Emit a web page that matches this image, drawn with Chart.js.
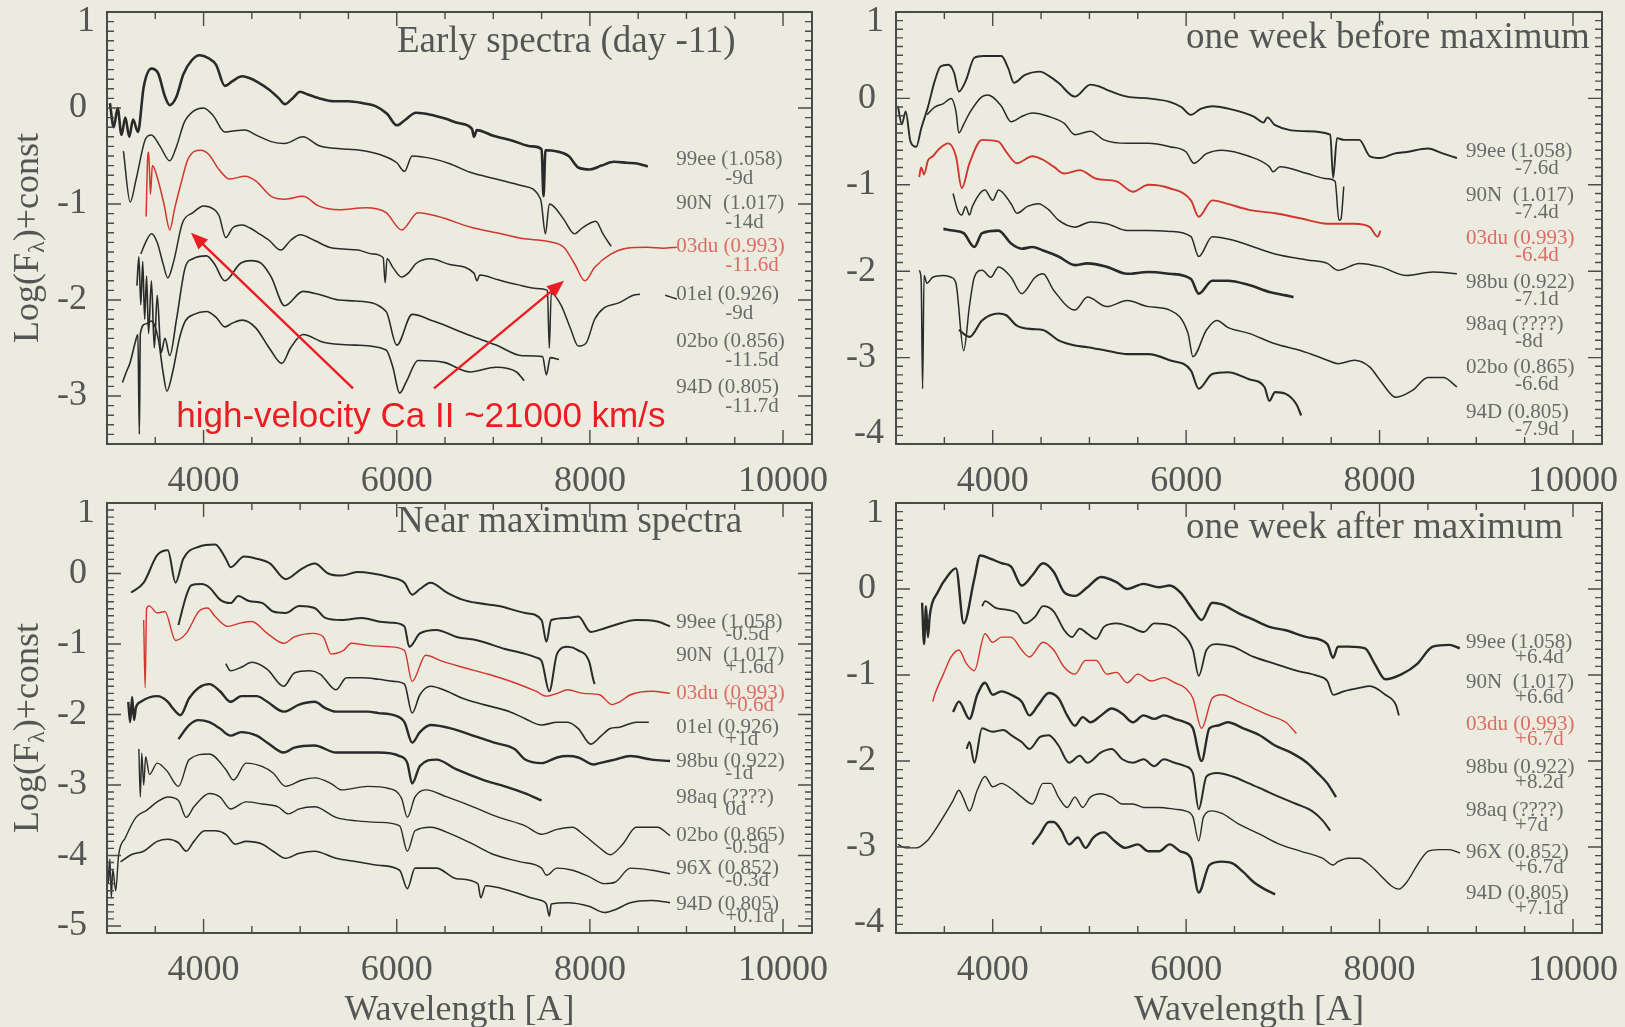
<!DOCTYPE html>
<html>
<head>
<meta charset="utf-8">
<title>SN Ia spectral sequence</title>
<script src="https://cdn.jsdelivr.net/npm/chart.js@4.4.1/dist/chart.umd.min.js"></script>
<style>
  html, body { margin: 0; padding: 0; background: #ecebdf; }
  body { width: 1625px; height: 1027px; position: relative; overflow: hidden; }
  canvas { position: absolute; }
</style>
</head>
<body>
<canvas id="c-early"></canvas>
<canvas id="c-pre"></canvas>
<canvas id="c-max"></canvas>
<canvas id="c-post"></canvas>
<script>
/* ---- wavelength axis (Angstrom) ---- */
const X_MIN = 3000, X_MAX = 10300;
const xTicks = [4000, 6000, 8000, 10000];
const LABEL_X = 8895;   // where the object labels start

/* ---- early spectra (day -11) : [wavelength, log flux + const] ---- */
const early99ee = [[3030,0.05],[3070,-0.20],[3110,0.00],[3150,-0.28],[3190,-0.10],[3230,-0.30],[3270,-0.12],[3320,-0.25],[3380,0.22],[3460,0.41],[3530,0.36],[3600,0.12],[3650,0.03],[3720,0.12],[3790,0.35],[3880,0.50],[3960,0.55],[4050,0.52],[4130,0.45],[4220,0.23],[4300,0.28],[4400,0.33],[4480,0.31],[4560,0.27],[4680,0.19],[4780,0.10],[4840,0.04],[4920,0.10],[5000,0.17],[5080,0.14],[5200,0.10],[5350,0.07],[5500,0.07],[5650,0.05],[5780,0.02],[5900,-0.06],[6000,-0.18],[6080,-0.13],[6200,-0.05],[6350,-0.07],[6500,-0.11],[6650,-0.16],[6780,-0.22],[6800,-0.30],[6830,-0.23],[7000,-0.29],[7200,-0.34],[7400,-0.40],[7500,-0.43],[7520,-0.92],[7540,-0.44],[7650,-0.45],[7780,-0.50],[7880,-0.62],[8000,-0.64],[8120,-0.60],[8250,-0.56],[8380,-0.57],[8500,-0.58],[8600,-0.61]];
const early90N = [[3170,-0.45],[3240,-0.98],[3300,-0.75],[3400,-0.32],[3460,-0.28],[3550,-0.40],[3650,-0.55],[3720,-0.40],[3800,-0.15],[3900,-0.03],[4000,0.00],[4100,-0.08],[4220,-0.25],[4300,-0.24],[4430,-0.23],[4540,-0.28],[4700,-0.35],[4840,-0.37],[5030,-0.30],[5190,-0.39],[5350,-0.42],[5500,-0.43],[5620,-0.44],[5840,-0.49],[6000,-0.57],[6080,-0.66],[6160,-0.50],[6380,-0.53],[6550,-0.58],[6760,-0.67],[7030,-0.74],[7300,-0.81],[7490,-0.95],[7540,-1.31],[7580,-1.00],[7620,-1.02],[7730,-1.16],[7840,-1.31],[7920,-1.25],[8000,-1.20],[8060,-1.18],[8140,-1.32],[8220,-1.44]];
const early03du = [[3405,-1.13],[3420,-0.55],[3432,-0.46],[3450,-0.90],[3470,-0.60],[3514,-0.70],[3590,-1.00],[3650,-1.27],[3700,-1.05],[3760,-0.81],[3840,-0.53],[3970,-0.44],[4050,-0.48],[4160,-0.64],[4270,-0.74],[4430,-0.71],[4540,-0.76],[4700,-0.92],[4840,-0.95],[5030,-0.92],[5190,-1.02],[5400,-1.06],[5680,-1.04],[5890,-1.09],[6050,-1.27],[6220,-1.09],[6430,-1.13],[6760,-1.24],[7080,-1.31],[7300,-1.36],[7570,-1.39],[7730,-1.45],[7840,-1.62],[7950,-1.80],[8050,-1.66],[8220,-1.52],[8380,-1.46],[8590,-1.45],[8760,-1.46],[8900,-1.45]];
const early01el = [[3350,-1.52],[3400,-1.40],[3460,-1.31],[3520,-1.40],[3580,-1.62],[3630,-1.77],[3690,-1.60],[3780,-1.20],[3890,-1.09],[4000,-1.02],[4100,-1.05],[4160,-1.12],[4230,-1.35],[4300,-1.25],[4400,-1.22],[4480,-1.25],[4560,-1.30],[4680,-1.38],[4800,-1.48],[4900,-1.38],[5000,-1.32],[5150,-1.38],[5300,-1.45],[5450,-1.47],[5600,-1.48],[5750,-1.52],[5860,-1.56],[5880,-1.82],[5900,-1.57],[5960,-1.66],[6050,-1.76],[6120,-1.72],[6200,-1.62],[6350,-1.57],[6550,-1.63],[6800,-1.72],[6830,-1.80],[6860,-1.74],[7050,-1.79],[7250,-1.84],[7450,-1.88],[7560,-1.90],[7580,-2.50],[7600,-1.93],[7700,-2.05],[7800,-2.30],[7880,-2.48],[7960,-2.45],[8050,-2.20],[8150,-2.08],[8300,-2.03],[8450,-1.95],[8520,-1.94],[8650,null],[8780,-1.95],[8900,-1.99]];
const early02bo = [[3310,-1.85],[3330,-1.55],[3350,-2.05],[3370,-1.60],[3390,-2.20],[3410,-1.75],[3430,-2.35],[3460,-1.80],[3490,-2.50],[3520,-1.95],[3560,-2.55],[3600,-2.40],[3650,-2.58],[3720,-2.20],[3810,-1.66],[3890,-1.57],[4030,-1.54],[4110,-1.62],[4220,-1.80],[4380,-1.62],[4490,-1.59],[4600,-1.62],[4700,-1.76],[4840,-2.06],[5030,-1.91],[5190,-1.94],[5400,-2.00],[5570,-2.01],[5890,-2.12],[6000,-2.47],[6160,-2.15],[6380,-2.22],[6760,-2.37],[7030,-2.47],[7300,-2.58],[7510,-2.59],[7550,-2.78],[7590,-2.60],[7680,-2.62]];
const early94D = [[3160,-2.86],[3200,-2.75],[3240,-2.65],[3290,-2.45],[3320,-2.36],[3335,-3.40],[3345,-2.35],[3400,-2.25],[3460,-2.22],[3530,-2.40],[3580,-2.75],[3620,-2.95],[3680,-2.75],[3750,-2.40],[3810,-2.22],[3900,-2.15],[4030,-2.12],[4130,-2.18],[4220,-2.28],[4300,-2.24],[4400,-2.21],[4540,-2.29],[4680,-2.50],[4810,-2.66],[4900,-2.50],[5030,-2.36],[5240,-2.44],[5570,-2.47],[5890,-2.52],[5960,-2.70],[6030,-2.97],[6100,-2.85],[6220,-2.63],[6490,-2.65],[6760,-2.75],[7030,-2.70],[7240,-2.75],[7320,-2.84]];
const earlyNames = ['99ee (1.058)', '90N  (1.017)', '03du (0.993)', '01el (0.926)', '02bo (0.856)', '94D (0.805)'];
const earlyPhases = ['-9d', '-14d', '-11.6d', '-9d', '-11.5d', '-11.7d'];
const earlyLabelY = [-0.54, -0.99, -1.44, -1.94, -2.43, -2.91];

/* ---- one week before maximum ---- */
const pre99ee = [[3020,-0.09],[3060,-0.30],[3100,-0.15],[3150,-0.50],[3210,-0.56],[3260,-0.35],[3330,-0.10],[3400,0.20],[3460,0.37],[3540,0.39],[3600,0.30],[3650,0.08],[3720,0.20],[3810,0.47],[3900,0.49],[3980,0.49],[4090,0.49],[4160,0.35],[4220,0.18],[4330,0.27],[4490,0.31],[4580,0.26],[4680,0.18],[4850,0.02],[5010,0.16],[5100,0.14],[5180,0.10],[5390,0.02],[5610,0.00],[5830,-0.04],[5950,-0.10],[6050,-0.19],[6150,-0.12],[6270,-0.09],[6480,-0.13],[6700,-0.21],[6800,-0.28],[6840,-0.22],[6920,-0.31],[7250,-0.38],[7490,-0.42],[7520,-0.92],[7560,-0.46],[7630,-0.48],[7790,-0.48],[7900,-0.67],[8010,-0.69],[8150,-0.64],[8280,-0.62],[8500,-0.58],[8660,-0.64],[8800,-0.69]];
const pre90N = [[3320,-0.19],[3400,-0.10],[3490,-0.06],[3570,0.00],[3620,-0.15],[3650,-0.40],[3700,-0.30],[3760,-0.17],[3890,0.02],[3950,0.04],[4090,-0.09],[4190,-0.27],[4300,-0.21],[4410,-0.17],[4580,-0.21],[4740,-0.29],[4850,-0.42],[5010,-0.38],[5150,-0.48],[5390,-0.52],[5610,-0.52],[5830,-0.56],[6000,-0.62],[6080,-0.75],[6210,-0.64],[6370,-0.60],[6650,-0.67],[6860,-0.79],[6900,-0.85],[6970,-0.79],[7250,-0.87],[7460,-0.93],[7540,-0.96],[7580,-1.41],[7600,-1.40],[7630,-1.02]];
const pre03du = [[3240,-0.91],[3260,-0.80],[3290,-0.88],[3330,-0.72],[3380,-0.67],[3450,-0.58],[3540,-0.52],[3620,-0.67],[3680,-1.04],[3760,-0.75],[3890,-0.48],[4060,-0.50],[4140,-0.62],[4250,-0.75],[4410,-0.67],[4520,-0.71],[4630,-0.79],[4740,-0.87],[4900,-0.83],[5070,-0.93],[5280,-0.96],[5450,-1.08],[5610,-1.00],[5830,-1.04],[6050,-1.18],[6130,-1.37],[6270,-1.18],[6430,-1.22],[6650,-1.29],[6920,-1.33],[7190,-1.39],[7460,-1.45],[7740,-1.45],[7900,-1.49],[7980,-1.60],[8010,-1.53]];
const pre98bu = [[3590,-1.10],[3640,-1.30],[3680,-1.35],[3720,-1.25],[3760,-1.35],[3790,-1.25],[3920,-1.06],[4000,-1.18],[4060,-1.06],[4190,-1.22],[4250,-1.33],[4360,-1.25],[4470,-1.22],[4580,-1.29],[4680,-1.41],[4850,-1.49],[5010,-1.43],[5180,-1.45],[5390,-1.53],[5610,-1.53],[5830,-1.54],[6050,-1.60],[6130,-1.83],[6270,-1.60],[6480,-1.64],[6700,-1.72],[6920,-1.80],[7250,-1.87],[7460,-1.91],[7570,-1.99],[7790,-1.91],[8010,-1.95],[8280,-2.05],[8550,-2.01],[8800,-2.03]];
const pre98aq = [[3490,-1.51],[3590,-1.53],[3700,-1.56],[3810,-1.72],[3890,-1.56],[4060,-1.53],[4190,-1.68],[4300,-1.74],[4410,-1.72],[4520,-1.76],[4680,-1.83],[4850,-1.93],[4980,-1.91],[5180,-1.95],[5390,-2.03],[5610,-2.01],[5830,-2.03],[6050,-2.09],[6130,-2.26],[6270,-2.11],[6430,-2.11],[6650,-2.16],[6860,-2.24],[7030,-2.28],[7110,-2.30]];
const pre02bo = [[3240,-1.99],[3260,-2.10],[3275,-3.36],[3290,-2.05],[3320,-2.14],[3380,-2.07],[3490,-2.05],[3570,-2.07],[3620,-2.14],[3700,-2.92],[3760,-2.40],[3810,-2.07],[3890,-1.99],[3980,-2.07],[4060,-1.95],[4190,-2.07],[4300,-2.26],[4440,-2.07],[4520,-2.03],[4630,-2.22],[4850,-2.45],[4980,-2.30],[5180,-2.41],[5390,-2.34],[5610,-2.41],[5830,-2.45],[6020,-2.72],[6070,-2.99],[6210,-2.68],[6320,-2.57],[6430,-2.65],[6650,-2.72],[6920,-2.84],[7190,-2.92],[7460,-3.03],[7570,-3.07],[7740,-3.03],[7900,-3.11],[8010,-3.27],[8170,-3.46],[8340,-3.38],[8500,-3.23],[8660,-3.23],[8800,-3.34]];
const pre94D = [[3650,-2.68],[3760,-2.76],[3890,-2.57],[4060,-2.49],[4140,-2.51],[4250,-2.63],[4410,-2.67],[4520,-2.68],[4680,-2.80],[4850,-2.86],[4980,-2.88],[5180,-2.92],[5390,-2.96],[5610,-2.96],[5830,-3.03],[6050,-3.15],[6130,-3.36],[6270,-3.19],[6430,-3.17],[6650,-3.25],[6810,-3.34],[6860,-3.50],[6920,-3.40],[7030,-3.42],[7140,-3.54],[7190,-3.67]];
const preNames = ['99ee (1.058)', '90N  (1.017)', '03du (0.993)', '98bu (0.922)', '98aq (????)', '02bo (0.865)', '94D (0.805)'];
const prePhases = ['-7.6d', '-7.4d', '-6.4d', '-7.1d', '-8d', '-6.6d', '-7.9d'];
const preLabelY = [-0.62, -1.12, -1.62, -2.13, -2.62, -3.12, -3.63];

/* ---- near maximum ---- */
const max99ee = [[3250,-0.27],[3380,-0.13],[3520,0.26],[3630,0.33],[3710,-0.13],[3790,0.21],[3950,0.38],[4120,0.41],[4230,0.21],[4280,0.09],[4420,0.24],[4550,0.21],[4690,0.14],[4850,-0.08],[5020,0.07],[5150,0.14],[5290,0.00],[5430,-0.03],[5590,0.02],[5750,0.00],[5920,-0.05],[6080,-0.13],[6160,-0.30],[6240,-0.22],[6350,-0.13],[6520,-0.27],[6680,-0.37],[6840,-0.42],[7060,-0.46],[7330,-0.56],[7500,-0.66],[7550,-0.97],[7600,-0.66],[7770,-0.63],[7880,-0.61],[8010,-0.83],[8100,-0.80],[8260,-0.73],[8480,-0.66],[8700,-0.68],[8830,-0.75]];
const max90N = [[3740,-0.73],[3820,-0.32],[3870,-0.17],[3980,-0.15],[4060,-0.20],[4170,-0.37],[4280,-0.42],[4360,-0.32],[4470,-0.39],[4610,-0.42],[4720,-0.54],[4850,-0.56],[4990,-0.46],[5150,-0.49],[5260,-0.63],[5430,-0.66],[5640,-0.63],[5810,-0.68],[5970,-0.70],[6080,-0.75],[6130,-1.04],[6240,-0.85],[6410,-0.80],[6620,-0.90],[6840,-0.95],[7120,-1.07],[7330,-1.14],[7440,-1.19],[7500,-1.24],[7580,-1.67],[7660,-1.14],[7770,-1.04],[7880,-1.09],[7990,-1.24],[8040,-1.53],[8050,-1.57]];
const max03du = [[3380,-0.66],[3395,-1.62],[3410,-0.50],[3436,-0.46],[3520,-0.56],[3600,-0.54],[3710,-0.95],[3820,-0.85],[3950,-0.54],[4040,-0.49],[4120,-0.61],[4250,-0.75],[4390,-0.70],[4500,-0.68],[4660,-0.85],[4830,-0.99],[4940,-0.90],[5130,-0.85],[5240,-0.90],[5320,-1.14],[5450,-1.09],[5530,-0.99],[5700,-1.02],[5920,-1.04],[6080,-1.09],[6160,-1.53],[6300,-1.16],[6460,-1.24],[6680,-1.33],[6950,-1.43],[7220,-1.55],[7440,-1.67],[7550,-1.74],[7660,-1.70],[7770,-1.65],[7930,-1.70],[8100,-1.72],[8230,-1.86],[8310,-1.82],[8420,-1.72],[8640,-1.67],[8830,-1.70]];
const max01el = [[4230,-1.28],[4280,-1.38],[4390,-1.33],[4500,-1.26],[4660,-1.36],[4830,-1.60],[4940,-1.41],[5100,-1.38],[5210,-1.43],[5370,-1.65],[5480,-1.48],[5640,-1.48],[5810,-1.50],[5970,-1.53],[6080,-1.57],[6160,-1.98],[6240,-1.72],[6350,-1.60],[6520,-1.67],[6680,-1.77],[6900,-1.86],[7170,-1.96],[7330,-2.06],[7500,-2.15],[7660,-2.11],[7770,-2.11],[7880,-2.20],[8010,-2.42],[8120,-2.30],[8210,-2.20],[8310,-2.18],[8480,-2.11],[8610,-2.11]];
const max98bu = [[3220,-1.82],[3240,-2.11],[3260,-1.75],[3280,-2.08],[3300,-1.90],[3350,-1.82],[3520,-1.74],[3630,-1.82],[3680,-1.91],[3760,-2.01],[3850,-1.77],[3950,-1.62],[4060,-1.57],[4170,-1.67],[4280,-1.82],[4390,-1.74],[4550,-1.74],[4660,-1.82],[4830,-1.96],[4990,-1.86],[5150,-1.82],[5260,-1.91],[5370,-1.96],[5530,-1.96],[5700,-1.96],[5810,-1.98],[5970,-2.01],[6080,-2.11],[6160,-2.40],[6240,-2.25],[6350,-2.15],[6570,-2.20],[6790,-2.30],[7010,-2.40],[7220,-2.49],[7330,-2.64],[7500,-2.69],[7660,-2.61],[7770,-2.59],[7880,-2.61],[8040,-2.71],[8100,-2.69],[8260,-2.64],[8420,-2.59],[8640,-2.64],[8830,-2.66]];
const max98aq = [[3740,-2.35],[3850,-2.15],[3950,-2.08],[4060,-2.11],[4170,-2.20],[4280,-2.30],[4390,-2.25],[4550,-2.30],[4660,-2.40],[4830,-2.54],[4940,-2.47],[5150,-2.44],[5370,-2.54],[5590,-2.54],[5810,-2.54],[6030,-2.59],[6110,-2.69],[6160,-2.98],[6240,-2.73],[6410,-2.64],[6620,-2.78],[6900,-2.93],[7120,-3.02],[7330,-3.12],[7500,-3.22]];
const max02bo = [[3330,-2.49],[3345,-3.17],[3360,-2.55],[3380,-3.00],[3400,-2.60],[3440,-2.85],[3520,-2.69],[3620,-2.80],[3740,-3.02],[3850,-2.64],[4060,-2.56],[4230,-2.78],[4310,-2.93],[4440,-2.69],[4610,-2.74],[4720,-2.83],[4850,-3.02],[5020,-2.93],[5150,-2.90],[5320,-2.98],[5430,-3.07],[5700,-3.02],[5920,-3.05],[6050,-3.19],[6110,-3.46],[6190,-3.17],[6300,-3.07],[6520,-3.17],[6790,-3.31],[7060,-3.46],[7330,-3.58],[7500,-3.70],[7660,-3.63],[7820,-3.60],[7930,-3.70],[8100,-3.89],[8210,-3.99],[8340,-3.84],[8480,-3.60],[8700,-3.60],[8830,-3.72]];
const max96X = [[3000,-3.89],[3015,-4.40],[3030,-4.05],[3045,-4.60],[3060,-4.20],[3090,-4.50],[3120,-4.00],[3190,-3.75],[3300,-3.46],[3410,-3.36],[3520,-3.24],[3630,-3.17],[3740,-3.22],[3820,-3.46],[3900,-3.31],[4060,-3.12],[4170,-3.17],[4280,-3.34],[4440,-3.24],[4610,-3.27],[4770,-3.31],[4880,-3.41],[4990,-3.34],[5150,-3.31],[5370,-3.46],[5590,-3.51],[5810,-3.53],[6030,-3.58],[6110,-3.94],[6190,-3.65],[6350,-3.60],[6570,-3.70],[6790,-3.84],[7010,-3.99],[7280,-4.09],[7500,-4.18],[7550,-4.28],[7660,-4.18],[7820,-4.21],[7990,-4.30],[8150,-4.40],[8260,-4.38],[8420,-4.18],[8640,-4.21],[8830,-4.26]];
const max94D = [[3140,-4.09],[3250,-3.99],[3380,-3.94],[3520,-3.80],[3630,-3.77],[3740,-3.82],[3820,-3.94],[3900,-3.80],[4010,-3.65],[4120,-3.65],[4230,-3.70],[4330,-3.84],[4440,-3.80],[4610,-3.84],[4720,-3.94],[4850,-4.04],[4990,-3.97],[5150,-3.94],[5370,-4.04],[5590,-4.09],[5810,-4.14],[6030,-4.21],[6110,-4.47],[6190,-4.18],[6410,-4.18],[6620,-4.33],[6840,-4.40],[6870,-4.60],[6920,-4.43],[7170,-4.50],[7390,-4.60],[7500,-4.64],[7550,-4.69],[7580,-4.86],[7600,-4.69],[7770,-4.67],[7990,-4.72],[8150,-4.81],[8260,-4.77],[8420,-4.67],[8640,-4.64],[8830,-4.67]];
const maxNames = ['99ee (1.058)', '90N  (1.017)', '03du (0.993)', '01el (0.926)', '98bu (0.922)', '98aq (????)', '02bo (0.865)', '96X (0.852)', '94D (0.805)'];
const maxPhases = ['-0.5d', '+1.6d', '+0.6d', '+1d', '-1d', '0d', '-0.5d', '-0.3d', '+0.1d'];
const maxLabelY = [-0.69, -1.16, -1.70, -2.18, -2.67, -3.18, -3.71, -4.18, -4.70];

/* ---- one week after maximum ---- */
const post99ee = [[3270,-0.16],[3290,-0.64],[3310,-0.20],[3330,-0.56],[3350,-0.30],[3430,-0.04],[3540,0.16],[3620,0.24],[3700,-0.40],[3810,0.12],[3870,0.39],[3980,0.35],[4090,0.30],[4190,0.26],[4300,0.04],[4410,0.16],[4520,0.30],[4630,0.20],[4740,-0.04],[4850,-0.08],[4980,0.02],[5120,0.14],[5280,0.08],[5390,0.00],[5560,0.06],[5720,0.02],[5830,0.04],[5940,-0.04],[6070,-0.24],[6160,-0.36],[6270,-0.16],[6370,-0.18],[6540,-0.28],[6700,-0.36],[6860,-0.44],[7030,-0.48],[7250,-0.56],[7460,-0.64],[7520,-0.80],[7570,-0.67],[7680,-0.67],[7850,-0.69],[7950,-0.87],[8060,-1.05],[8230,-0.99],[8390,-0.87],[8550,-0.67],[8720,-0.65],[8830,-0.69]];
const post90N = [[3890,-0.20],[3920,-0.14],[4030,-0.22],[4140,-0.24],[4250,-0.28],[4330,-0.40],[4440,-0.32],[4520,-0.20],[4630,-0.26],[4740,-0.48],[4820,-0.56],[4900,-0.46],[4980,-0.52],[5070,-0.58],[5150,-0.44],[5280,-0.40],[5420,-0.44],[5560,-0.50],[5670,-0.40],[5830,-0.42],[5940,-0.50],[6070,-0.71],[6130,-1.01],[6210,-0.71],[6320,-0.64],[6480,-0.67],[6700,-0.79],[6920,-0.87],[7140,-0.95],[7360,-1.01],[7460,-1.07],[7520,-1.23],[7630,-1.19],[7790,-1.15],[7900,-1.13],[8060,-1.23],[8170,-1.35],[8200,-1.47]];
const post03du = [[3380,-1.31],[3400,-1.23],[3490,-0.99],[3570,-0.79],[3650,-0.71],[3730,-0.87],[3810,-0.95],[3920,-0.52],[4000,-0.62],[4090,-0.56],[4190,-0.56],[4300,-0.71],[4380,-0.79],[4520,-0.62],[4630,-0.71],[4740,-0.91],[4850,-0.99],[4960,-0.83],[5070,-0.83],[5180,-0.99],[5280,-0.97],[5390,-1.09],[5500,-0.99],[5640,-1.07],[5770,-1.03],[5880,-1.09],[5990,-1.15],[6070,-1.27],[6160,-1.62],[6270,-1.27],[6370,-1.23],[6540,-1.31],[6700,-1.39],[6860,-1.47],[7030,-1.55],[7140,-1.68]];
const post98bu = [[3590,-1.43],[3650,-1.31],[3760,-1.51],[3840,-1.23],[3920,-1.09],[4000,-1.23],[4090,-1.19],[4190,-1.23],[4300,-1.31],[4380,-1.47],[4470,-1.35],[4580,-1.21],[4680,-1.27],[4770,-1.47],[4850,-1.59],[4930,-1.49],[5010,-1.55],[5120,-1.47],[5230,-1.39],[5340,-1.45],[5450,-1.55],[5560,-1.47],[5670,-1.51],[5770,-1.47],[5880,-1.51],[5990,-1.55],[6070,-1.62],[6160,-2.00],[6240,-1.62],[6320,-1.59],[6430,-1.55],[6590,-1.62],[6760,-1.70],[6920,-1.82],[7080,-1.90],[7250,-2.02],[7360,-2.14],[7460,-2.26],[7550,-2.42]];
const post98aq = [[3730,-1.86],[3760,-1.78],[3810,-2.02],[3890,-1.62],[4000,-1.66],[4110,-1.64],[4190,-1.70],[4300,-1.78],[4380,-1.86],[4490,-1.72],[4580,-1.70],[4680,-1.82],[4790,-2.02],[4900,-1.94],[4980,-2.02],[5120,-1.90],[5230,-1.86],[5340,-1.98],[5450,-2.02],[5560,-1.98],[5670,-2.06],[5770,-1.98],[5880,-2.02],[5990,-2.06],[6070,-2.14],[6130,-2.56],[6210,-2.18],[6320,-2.14],[6480,-2.18],[6650,-2.26],[6810,-2.34],[6970,-2.42],[7140,-2.50],[7300,-2.58],[7410,-2.69],[7490,-2.81]];
const post96X = [[3020,-2.97],[3100,-3.01],[3210,-3.01],[3320,-2.93],[3400,-2.81],[3490,-2.65],[3590,-2.46],[3650,-2.34],[3700,-2.44],[3760,-2.58],[3840,-2.34],[3920,-2.18],[4000,-2.30],[4090,-2.26],[4190,-2.32],[4300,-2.42],[4410,-2.50],[4520,-2.26],[4600,-2.26],[4680,-2.42],[4770,-2.54],[4850,-2.42],[4930,-2.54],[5010,-2.42],[5120,-2.38],[5230,-2.42],[5340,-2.50],[5450,-2.50],[5560,-2.54],[5720,-2.54],[5880,-2.56],[5990,-2.58],[6070,-2.65],[6130,-2.93],[6180,-2.65],[6270,-2.58],[6370,-2.61],[6540,-2.73],[6760,-2.85],[6970,-2.97],[7190,-3.05],[7410,-3.13],[7520,-3.21],[7570,-3.17],[7680,-3.13],[7790,-3.13],[7900,-3.21],[8010,-3.33],[8120,-3.45],[8200,-3.49],[8280,-3.41],[8390,-3.21],[8500,-3.05],[8610,-3.03],[8720,-3.03],[8830,-3.07]];
const post94D = [[4410,-2.97],[4490,-2.85],[4580,-2.71],[4630,-2.71],[4710,-2.81],[4790,-2.97],[4880,-2.89],[4960,-3.01],[5040,-2.89],[5150,-2.83],[5260,-2.93],[5370,-3.01],[5500,-2.97],[5610,-3.05],[5720,-3.05],[5830,-2.97],[5940,-3.05],[6050,-3.13],[6130,-3.53],[6240,-3.21],[6370,-3.17],[6480,-3.19],[6590,-3.29],[6700,-3.41],[6810,-3.49],[6920,-3.55]];
const postNames = ['99ee (1.058)', '90N  (1.017)', '03du (0.993)', '98bu (0.922)', '98aq (????)', '96X (0.852)', '94D (0.805)'];
const postPhases = ['+6.4d', '+6.6d', '+6.7d', '+8.2d', '+7d', '+6.7d', '+7.1d'];
const postLabelY = [-0.62, -1.09, -1.58, -2.07, -2.57, -3.06, -3.54];

/* ---- high-velocity Ca II note (data units) ---- */
const caNote = 'high-velocity Ca II ~21000 km/s';
const caNoteAt = [6250, -3.22];
const caArrows = [[5547, -2.92, 3870, -1.30], [6386, -2.92, 7732, -1.80]];

/* ---- look ---- */
const SERIF = "'Liberation Serif', 'DejaVu Serif', serif";
const SANS = "'Liberation Sans', Arial, sans-serif";
const INK = '#2a2a2a';
const RED = '#d3352f';
const FRAME = '#4a4a4a';
const TEXT = '#555555';
const LABEL = '#6a6a6a';
const RED_LABEL = '#dc6d66';
const NOTE_RED = '#ec1c24';
const RED_INDEX = 2;
const Y_AXIS_W = 50, X_AXIS_H = 56;
const TICK_FONT = { family: SERIF, size: 36 };
const EDGE_LABEL_SHIFT = 10;  // labels sitting on the frame edge are pulled inside

const panels = [
  {
    id: 'c-early', box: [0, 0, 840, 500], area: [107, 12, 812, 444],
    yRange: [-3.5, 1], yTicks: [-3, -2, -1, 0, 1],
    title: 'Early spectra (day -11)', titleDy: 30,
    spectra: [early99ee, early90N, early03du, early01el, early02bo, early94D],
    widths: [2.6, 1.5, 1.5, 1.5, 1.6, 1.6],
    names: earlyNames, phases: earlyPhases, labelY: earlyLabelY, phaseDy: 19,
    yTitle: true, xTitle: false, note: true
  },
  {
    id: 'c-pre', box: [840, 0, 785, 500], area: [896, 12, 1602, 444],
    yRange: [-4, 1], yTicks: [-4, -3, -2, -1, 0, 1],
    title: 'one week before maximum', titleDy: 26,
    spectra: [pre99ee, pre90N, pre03du, pre98bu, pre98aq, pre02bo, pre94D],
    widths: [1.9, 1.5, 1.9, 1.5, 2.6, 1.5, 2.1],
    names: preNames, phases: prePhases, labelY: preLabelY, phaseDy: 17,
    yTitle: false, xTitle: false, note: false
  },
  {
    id: 'c-max', box: [0, 500, 840, 527], area: [107, 503, 812, 933],
    yRange: [-5.1, 1], yTicks: [-5, -4, -3, -2, -1, 0, 1],
    title: 'Near maximum spectra', titleDy: 19,
    spectra: [max99ee, max90N, max03du, max01el, max98bu, max98aq, max02bo, max96X, max94D],
    widths: [2.0, 2.0, 1.4, 1.6, 2.4, 2.4, 1.4, 1.4, 1.6],
    names: maxNames, phases: maxPhases, labelY: maxLabelY, phaseDy: 12,
    yTitle: true, xTitle: true, note: false
  },
  {
    id: 'c-post', box: [840, 500, 785, 527], area: [896, 503, 1602, 933],
    yRange: [-4, 1], yTicks: [-4, -3, -2, -1, 0, 1],
    title: 'one week after maximum', titleDy: 25,
    spectra: [post99ee, post90N, post03du, post98bu, post98aq, post96X, post94D],
    widths: [2.4, 1.8, 1.4, 2.4, 2.0, 1.4, 2.4],
    names: postNames, phases: postPhases, labelY: postLabelY, phaseDy: 15,
    yTitle: false, xTitle: true, note: false
  }
];

const onEdge = (p, v) => v === p.yRange[0] || v === p.yRange[1];

// frame, inward ticks, titles and labels drawn over the spectra
function overlay(p) {
  return {
    id: 'overlay',
    afterDatasetsDraw(chart) {
      const { ctx, chartArea: a, scales: { x, y } } = chart;
      ctx.save();

      ctx.strokeStyle = FRAME;
      ctx.lineWidth = 2;
      ctx.strokeRect(a.left, a.top, a.right - a.left, a.bottom - a.top);

      ctx.lineWidth = 1.4;
      ctx.beginPath();
      for (let v = 3500; v < X_MAX; v += 500) {
        const px = x.getPixelForValue(v);
        const len = v % 2000 === 0 ? 14 : 7;
        ctx.moveTo(px, a.bottom); ctx.lineTo(px, a.bottom - len);
        ctx.moveTo(px, a.top); ctx.lineTo(px, a.top + len);
      }
      for (let k = Math.ceil(p.yRange[0] * 10); k <= Math.floor(p.yRange[1] * 10); k++) {
        const py = y.getPixelForValue(k / 10);
        const len = k % 10 === 0 ? 14 : 7;
        ctx.moveTo(a.left, py); ctx.lineTo(a.left + len, py);
        ctx.moveTo(a.right, py); ctx.lineTo(a.right - len, py);
      }
      ctx.stroke();

      // tick values on the frame edges, nudged inside
      ctx.fillStyle = TEXT;
      ctx.font = `${TICK_FONT.size}px ${SERIF}`;
      ctx.textAlign = 'right';
      ctx.textBaseline = 'middle';
      p.yTicks.filter(v => onEdge(p, v)).forEach(v => {
        const shift = v === p.yRange[1] ? EDGE_LABEL_SHIFT : -EDGE_LABEL_SHIFT;
        ctx.fillText(String(v), a.left - 12, y.getPixelForValue(v) + shift);
      });

      // panel title
      ctx.font = `37px ${SERIF}`;
      ctx.textAlign = 'left';
      ctx.fillText(p.title, a.left + 290, a.top + p.titleDy);

      // object name (stretch) and phase
      ctx.font = `21px ${SERIF}`;
      p.names.forEach((name, i) => {
        const lx = x.getPixelForValue(LABEL_X);
        const ly = y.getPixelForValue(p.labelY[i]);
        ctx.fillStyle = i === RED_INDEX ? RED_LABEL : LABEL;
        ctx.fillText(name, lx, ly);
        ctx.fillText(p.phases[i], lx + 49, ly + p.phaseDy);
      });

      if (p.note) {
        ctx.strokeStyle = NOTE_RED;
        ctx.fillStyle = NOTE_RED;
        ctx.lineWidth = 2.4;
        caArrows.forEach(([x0, y0, x1, y1]) => {
          const ax = x.getPixelForValue(x0), ay = y.getPixelForValue(y0);
          const bx = x.getPixelForValue(x1), by = y.getPixelForValue(y1);
          const ang = Math.atan2(by - ay, bx - ax);
          ctx.beginPath();
          ctx.moveTo(ax, ay);
          ctx.lineTo(bx - 12 * Math.cos(ang), by - 12 * Math.sin(ang));
          ctx.stroke();
          ctx.beginPath();
          ctx.moveTo(bx, by);
          ctx.lineTo(bx - 17 * Math.cos(ang) + 7 * Math.sin(ang), by - 17 * Math.sin(ang) - 7 * Math.cos(ang));
          ctx.lineTo(bx - 17 * Math.cos(ang) - 7 * Math.sin(ang), by - 17 * Math.sin(ang) + 7 * Math.cos(ang));
          ctx.closePath();
          ctx.fill();
        });
        ctx.font = `35px ${SANS}`;
        ctx.textAlign = 'center';
        ctx.fillText(caNote, x.getPixelForValue(caNoteAt[0]), y.getPixelForValue(caNoteAt[1]));
      }

      ctx.fillStyle = TEXT;
      ctx.textAlign = 'center';
      ctx.textBaseline = 'middle';
      if (p.xTitle) {
        ctx.font = `36px ${SERIF}`;
        ctx.fillText('Wavelength [A]', (a.left + a.right) / 2, a.bottom + 78);
      }
      if (p.yTitle) {
        // Log(F_lambda)+const, with a subscript lambda
        const parts = [['Log(F', 36, 0], ['\u03bb', 24, 9], [')+const', 36, 0]];
        ctx.save();
        ctx.translate(a.left - 78, (a.top + a.bottom) / 2 + 10);
        ctx.rotate(-Math.PI / 2);
        ctx.textAlign = 'left';
        let total = 0;
        parts.forEach(([t, s]) => { ctx.font = `${s}px ${SERIF}`; total += ctx.measureText(t).width; });
        let cx = -total / 2;
        parts.forEach(([t, s, dy]) => {
          ctx.font = `${s}px ${SERIF}`;
          ctx.fillText(t, cx, dy);
          cx += ctx.measureText(t).width;
        });
        ctx.restore();
      }
      ctx.restore();
    }
  };
}

panels.forEach(p => {
  const canvas = document.getElementById(p.id);
  const [bl, bt, bw, bh] = p.box;
  canvas.width = bw; canvas.height = bh;
  canvas.style.left = bl + 'px'; canvas.style.top = bt + 'px';
  canvas.style.width = bw + 'px'; canvas.style.height = bh + 'px';

  const [al, at, ar, ab] = p.area;
  const padding = {
    left: al - bl - Y_AXIS_W,
    top: at - bt,
    right: bl + bw - ar,
    bottom: bt + bh - ab - X_AXIS_H
  };

  new Chart(canvas, {
    type: 'line',
    data: {
      datasets: p.spectra.map((s, i) => ({
        data: s.map(([wl, f]) => ({ x: wl, y: f })),
        borderColor: i === RED_INDEX ? RED : INK,
        borderWidth: p.widths[i],
        borderJoinStyle: 'round',
        pointRadius: 0,
        fill: false,
        spanGaps: false,
        cubicInterpolationMode: 'monotone'
      }))
    },
    options: {
      responsive: false,
      animation: false,
      events: [],
      layout: { padding },
      plugins: { legend: { display: false }, tooltip: { enabled: false } },
      scales: {
        x: {
          type: 'linear', min: X_MIN, max: X_MAX,
          afterBuildTicks: s => { s.ticks = xTicks.map(v => ({ value: v })); },
          afterFit: s => { s.height = X_AXIS_H; s.paddingLeft = 0; s.paddingRight = 0; },
          grid: { display: false }, border: { display: false },
          ticks: { color: TEXT, font: TICK_FONT, padding: 8, maxRotation: 0, autoSkip: false, callback: v => String(v) }
        },
        y: {
          type: 'linear', min: p.yRange[0], max: p.yRange[1],
          afterBuildTicks: s => { s.ticks = p.yTicks.map(v => ({ value: v })); },
          afterFit: s => { s.width = Y_AXIS_W; s.paddingTop = 0; s.paddingBottom = 0; },
          grid: { display: false }, border: { display: false },
          // edge values are drawn by the overlay
          ticks: { color: TEXT, font: TICK_FONT, padding: 12, autoSkip: false, callback: v => (onEdge(p, v) ? '' : String(v)) }
        }
      }
    },
    plugins: [overlay(p)]
  });
});
</script>
</body>
</html>
